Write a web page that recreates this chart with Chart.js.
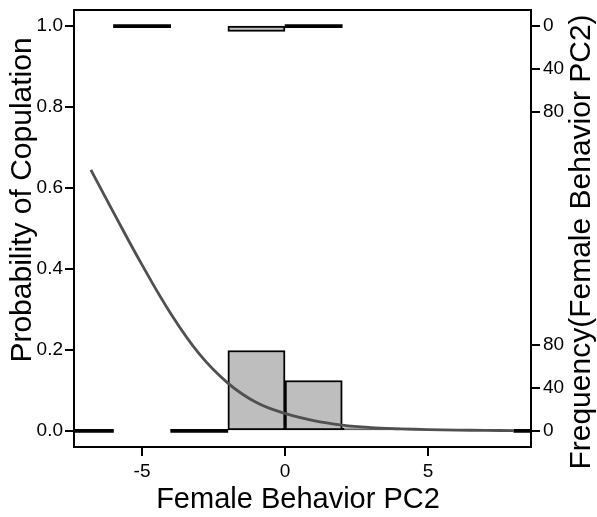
<!DOCTYPE html>
<html>
<head>
<meta charset="utf-8">
<script src="https://cdn.jsdelivr.net/npm/chart.js@4"></script>
<style>
  body { margin: 0; background: #fff; }
  #wrap { width: 597px; height: 517px; position: relative; }
</style>
</head>
<body>
<div id="wrap"><canvas id="chart"></canvas></div>
<script>
// values
const xTicks = [-5, 0, 5];
const probTicks = [0, 0.2, 0.4, 0.6, 0.8, 1.0];
const freqTicks = [0, 40, 80];

// histogram bins (left edge), counts for no copulation (bottom) and copulation (top)
const binStarts = [-8, -6, -4, -2, 0, 2, 4, 6, 8];
const countsNoCop = [0, null, 0, 75, 47, 2, null, null, 0];
const countsCop = [null, 0, null, 5, 0, null, null, null, null];

// fitted logistic curve, read at these points
const curveX = [-6.79, -6, -5, -4, -3, -2, -1, 0, 1, 2, 3, 4, 5, 6, 7, 8];
const curveP = [0.645, 0.54, 0.41, 0.29, 0.19, 0.118, 0.07, 0.043, 0.025, 0.014, 0.008, 0.005, 0.003, 0.0018, 0.001, 0.0006];

const binWidth = 2;
const freqPerProb = 378;   // counts per unit of probability on the plot
const xMin = -7.38, xMax = 8.6;
const yMin = -0.04, yMax = 1.04;

const FONT = '"Liberation Sans", Arial, Helvetica, sans-serif';

function histPoints(counts) {
  const pts = [];
  counts.forEach(function (c, i) {
    if (c !== null) pts.push({ x: binStarts[i] + binWidth / 2, y: c });
  });
  return pts;
}

// empty bins show up as a flat black bar
function isEmpty(c) {
  return c.raw && c.raw.y === 0;
}

const frame = {
  id: "frame",
  afterDraw(chart) {
    const { ctx, chartArea: a } = chart;
    ctx.save();
    ctx.strokeStyle = "#000";
    ctx.lineWidth = 2;
    ctx.strokeRect(a.left, a.top, a.right - a.left, a.bottom - a.top);

    ctx.fillStyle = "#000";
    ctx.textAlign = "center";
    ctx.textBaseline = "alphabetic";
    ctx.font = "29px " + FONT;
    ctx.fillText("Female Behavior PC2", 298, 508);

    ctx.font = "30px " + FONT;
    ctx.save();
    ctx.translate(31, 200);
    ctx.rotate(-Math.PI / 2);
    ctx.fillText("Probability of Copulation", 0, 0);
    ctx.restore();

    ctx.save();
    ctx.translate(590, 242);
    ctx.rotate(-Math.PI / 2);
    ctx.fillText("Frequency(Female Behavior PC2)", 0, 0);
    ctx.restore();
    ctx.restore();
  },
};

const tickGrid = {
  drawOnChartArea: false,
  drawTicks: true,
  offset: false,
  tickLength: 9,
  color: "#000",
  lineWidth: 2,
};

const tickFont = { family: FONT, size: 19 };

const histStyle = {
  type: "bar",
  backgroundColor: function (c) { return isEmpty(c) ? "#000" : "#bebebe"; },
  borderColor: "#000",
  borderWidth: function (c) { return isEmpty(c) ? 0 : 2; },
  borderSkipped: false,
  minBarLength: 3,
  grouped: false,
  barPercentage: 1,
  categoryPercentage: 1,
  clip: 0,
};

const ctx = document.getElementById("chart").getContext("2d");
const myChart = new Chart(ctx, {
  type: "bar",
  data: {
    datasets: [
      {
        type: "line",
        data: curveX.map(function (x, i) { return { x: x, y: curveP[i] }; }),
        yAxisID: "y",
        borderColor: "#505050",
        borderWidth: 2.8,
        pointRadius: 0,
        tension: 0.4,
        fill: false,
      },
      Object.assign({ data: histPoints(countsNoCop), yAxisID: "y2" }, histStyle),
      Object.assign({ data: histPoints(countsCop), yAxisID: "y3" }, histStyle),
    ],
  },
  options: {
    responsive: true,
    maintainAspectRatio: false,
    animation: false,
    layout: { padding: { top: 10, left: 0, right: 0, bottom: 0 } },
    plugins: { legend: { display: false }, tooltip: { enabled: false } },
    scales: {
      x: {
        type: "linear",
        min: xMin,
        max: xMax,
        offset: false,
        grid: tickGrid,
        border: { display: false },
        ticks: {
          color: "#000",
          font: tickFont,
          padding: 4,
          maxRotation: 0,
          autoSkip: false,
        },
        afterBuildTicks: function (scale) {
          scale.ticks = xTicks.map(function (v) { return { value: v }; });
        },
        afterFit: function (scale) {
          scale.height = 70;
          scale.paddingLeft = 0;
          scale.paddingRight = 0;
        },
      },
      y: {
        type: "linear",
        position: "left",
        min: yMin,
        max: yMax,
        grid: tickGrid,
        border: { display: false },
        ticks: {
          color: "#000",
          font: tickFont,
          padding: 2,
          autoSkip: false,
          callback: function (v) { return Number(v).toFixed(1); },
        },
        afterBuildTicks: function (scale) {
          scale.ticks = probTicks.map(function (v) { return { value: v }; });
        },
        afterFit: function (scale) {
          scale.width = 74;
          scale.paddingTop = 0;
          scale.paddingBottom = 0;
        },
      },
      y2: {
        type: "linear",
        position: "right",
        min: yMin * freqPerProb,
        max: yMax * freqPerProb,
        grid: tickGrid,
        border: { display: false },
        ticks: {
          color: "#000",
          font: tickFont,
          padding: 3,
          autoSkip: false,
          callback: function (v) {
            return v > freqPerProb / 2 ? String(Math.round(freqPerProb - v)) : String(v);
          },
        },
        afterBuildTicks: function (scale) {
          const bottom = freqTicks.map(function (v) { return { value: v }; });
          const top = freqTicks.map(function (v) { return { value: freqPerProb - v }; });
          scale.ticks = bottom.concat(top.reverse());
        },
        afterFit: function (scale) {
          scale.width = 66;
          scale.paddingTop = 0;
          scale.paddingBottom = 0;
        },
      },
      // counts hanging down from probability 1
      y3: {
        type: "linear",
        display: false,
        reverse: true,
        min: (1 - yMax) * freqPerProb,
        max: (1 - yMin) * freqPerProb,
      },
    },
  },
  plugins: [frame],
});
</script>
</body>
</html>
